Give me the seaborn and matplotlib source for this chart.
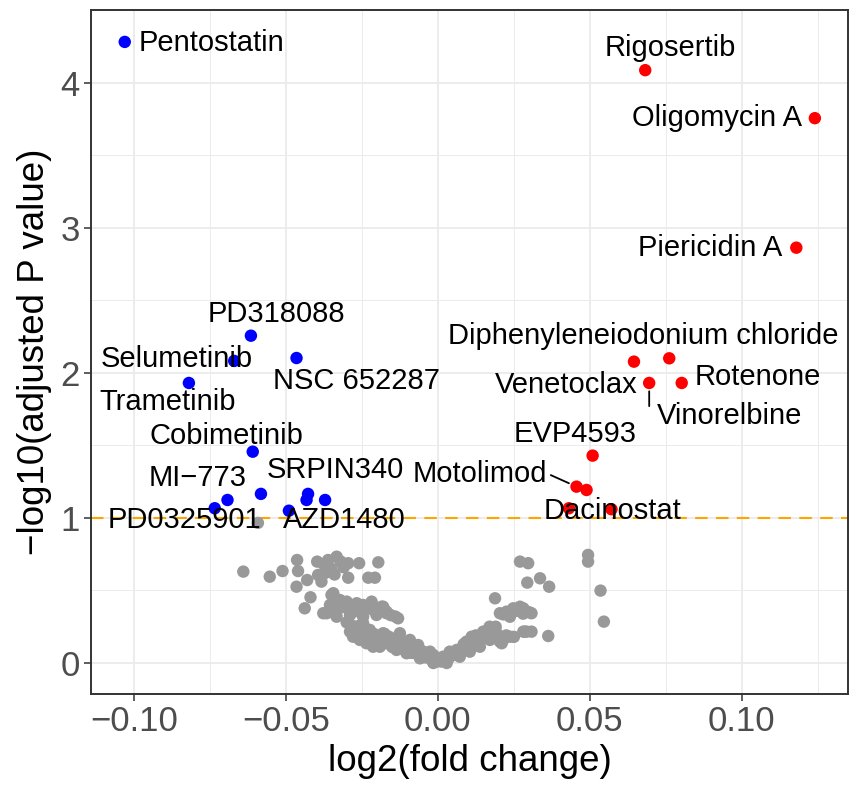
import numpy as np
import pandas as pd
import matplotlib
matplotlib.use("Agg")
import matplotlib.pyplot as plt
import seaborn as sns

# ---------------- data ----------------
down_names = ["Pentostatin", "PD318088", "Selumetinib", "NSC 652287", "Trametinib",
              "Cobimetinib", "MI−773", "PD0325901", "SRPIN340", "AZD1480", "", "", ""]
down_fc = [-0.1030, -0.0615, -0.0670, -0.0465, -0.0819, -0.0609, -0.0692, -0.0734,
           -0.0427, -0.0371, -0.0582, -0.0490, -0.0432]
down_p = [4.283, 2.257, 2.083, 2.103, 1.931, 1.457, 1.124, 1.067, 1.166, 1.124,
          1.166, 1.050, 1.124]

up_names = ["Rigosertib", "Oligomycin A", "Piericidin A", "Diphenyleneiodonium chloride",
            "Venetoclax", "Vinorelbine", "Rotenone", "EVP4593", "Motolimod", "Dacinostat", "", ""]
up_fc = [0.0682, 0.1240, 0.1179, 0.0761, 0.0645, 0.0695, 0.0802, 0.0509, 0.0456, 0.0571,
         0.0489, 0.0431]
up_p = [4.088, 3.757, 2.864, 2.101, 2.078, 1.931, 1.931, 1.430, 1.216, 1.060, 1.193, 1.067]

ns_fc = [-0.0640, -0.0553, -0.0511, -0.0463, -0.0460, -0.0465, -0.0430, -0.0397, -0.0361,
         -0.0333, -0.0394, -0.0383, -0.0372, -0.0419, -0.0438, -0.0350, -0.0366, -0.0333,
         -0.0333, -0.0295, -0.0259, -0.0196, -0.0295, -0.0229, -0.0207, -0.0344, -0.0322,
         -0.0300, -0.0267, -0.0246, -0.0218, -0.0185, -0.0169, -0.0131, -0.0333, -0.0289,
         -0.0246, -0.0202, -0.0246, -0.0377, -0.0344, -0.0312, -0.0279, -0.0246, -0.0213,
         -0.0180, -0.0169, -0.0289, -0.0267, -0.0246, -0.0224, -0.0202, -0.0180, -0.0169,
         -0.0147, -0.0125, -0.0114, -0.0092, -0.0081, -0.0065, -0.0048, -0.0026, -0.0004,
         -0.0257, -0.0235, -0.0213, -0.0191, -0.0136, -0.0103, -0.0059, -0.0015, -0.0279,
         -0.0015, 0.0007, 0.0017, 0.0039, 0.0062, 0.0083, 0.0094, 0.0111, 0.0127, 0.0149,
         0.0165, 0.0188, 0.0171, 0.0204, 0.0237, 0.0072, 0.0105, 0.0138, 0.0029, 0.0188,
         0.0204, 0.0226, 0.0248, 0.0270, 0.0292, 0.0308, 0.0237, 0.0292, 0.0281, 0.0270,
         0.0297, 0.0494, 0.0494, 0.0294, 0.0336, 0.0366, 0.0535, 0.0546, 0.0281, 0.0286,
         0.0308, 0.0363, 0.0210, -0.0592,
         -0.0270, -0.0255, -0.0230, -0.0215, -0.0200, -0.0190, -0.0160, -0.0150, -0.0140,
         -0.0110, -0.0100, -0.0085, -0.0070, -0.0055, -0.0040, -0.0030, -0.0020, -0.0010,
         0.0010, 0.0020, 0.0035, 0.0050, 0.0060, 0.0075, 0.0090, 0.0100, 0.0120, 0.0135,
         0.0155, 0.0175, 0.0195,
         -0.0300, -0.0285, -0.0275, -0.0265, -0.0255, -0.0240, -0.0230, -0.0220, -0.0210,
         -0.0205, -0.0195, -0.0185, -0.0175, -0.0165, -0.0155, -0.0145, -0.0135, -0.0120,
         -0.0115, -0.0105, -0.0095, -0.0085, -0.0075, -0.0065, -0.0050, -0.0045, -0.0035,
         -0.0025, -0.0012, -0.0005,
         -0.0355, -0.0320, -0.0300, -0.0290, -0.0270, -0.0255, -0.0235, -0.0225, -0.0195,
         -0.0175, -0.0155, -0.0140,
         0.0015, 0.0025, 0.0045, 0.0055, 0.0065, 0.0080, 0.0085, 0.0095, 0.0110, 0.0115,
         0.0125, 0.0130, 0.0145, 0.0160, 0.0170, 0.0180, 0.0190, 0.0200, 0.0215, 0.0225,
         0.0250,
         0.0215, 0.0260, 0.0280, 0.0300,
         -0.0350, -0.0340, -0.0320, -0.0310, -0.0375]
ns_p = [0.630, 0.595, 0.634, 0.710, 0.634, 0.526, 0.572, 0.699, 0.710, 0.733, 0.607, 0.561,
        0.619, 0.453, 0.377, 0.469, 0.343, 0.377, 0.319, 0.688, 0.688, 0.694, 0.588, 0.588,
        0.588, 0.481, 0.434, 0.423, 0.412, 0.400, 0.423, 0.388, 0.354, 0.308, 0.354, 0.331,
        0.319, 0.331, 0.274, 0.343, 0.366, 0.388, 0.354, 0.388, 0.366, 0.388, 0.343, 0.216,
        0.250, 0.205, 0.228, 0.181, 0.205, 0.136, 0.159, 0.205, 0.112, 0.159, 0.090, 0.124,
        0.067, 0.078, 0.032, 0.159, 0.136, 0.112, 0.112, 0.090, 0.067, 0.032, 0.000, 0.181,
        0.055, 0.021, 0.043, 0.078, 0.090, 0.112, 0.147, 0.181, 0.159, 0.216, 0.228, 0.232,
        0.159, 0.147, 0.181, 0.043, 0.078, 0.112, 0.000, 0.446, 0.343, 0.354, 0.377, 0.388,
        0.354, 0.343, 0.319, 0.216, 0.216, 0.699, 0.688, 0.745, 0.699, 0.554, 0.584, 0.526,
        0.499, 0.285, 0.377, 0.216, 0.216, 0.186, 0.136, 0.966,
        0.230, 0.180, 0.190, 0.150, 0.160, 0.140, 0.180, 0.110, 0.120, 0.130, 0.100, 0.070,
        0.080, 0.060, 0.040, 0.050, 0.020, 0.010, 0.010, 0.030, 0.030, 0.060, 0.060, 0.080,
        0.100, 0.120, 0.130, 0.150, 0.190, 0.200, 0.200,
        0.280, 0.260, 0.230, 0.200, 0.260, 0.240, 0.190, 0.210, 0.200, 0.150, 0.170, 0.140,
        0.200, 0.170, 0.130, 0.120, 0.140, 0.100, 0.150, 0.090, 0.120, 0.070, 0.100, 0.060,
        0.080, 0.040, 0.060, 0.030, 0.020, 0.010,
        0.400, 0.395, 0.380, 0.400, 0.370, 0.350, 0.375, 0.395, 0.370, 0.360, 0.330, 0.320,
        0.020, 0.035, 0.050, 0.070, 0.075, 0.090, 0.130, 0.110, 0.140, 0.120, 0.190, 0.140,
        0.170, 0.200, 0.250, 0.200, 0.250, 0.180, 0.160, 0.190, 0.180,
        0.335, 0.360, 0.340, 0.350,
        0.650, 0.610, 0.700, 0.660, 0.680]

# label layout (pixel offsets from the point, alignment, leader segment)
down_layout = [(14, -1, "left", False), (26, 22, "center", False), (-57, 2, "center", False),
               (60, -23, "center", False), (-21, -19, "center", False), (-26, 16, "center", False),
               (-30, 22, "center", False), (-30, -12, "center", False), (27, 24, "center", False),
               (19, -20, "center", False), None, None, None]
up_layout = [(25, 22, "center", False), (-13, 0, "right", False), (-14, 0, "right", False),
             (-26, 22, "center", False), (-68, -23, "center", False), (80, -33, "center", True),
             (13, 6, "left", False), (-18, 22, "center", False), (-29, 13, "right", True),
             (1, -2, "center", False), None, None]

df = pd.concat([
    pd.DataFrame({"fc": ns_fc, "p": ns_p, "name": "", "group": "ns"}),
    pd.DataFrame({"fc": down_fc, "p": down_p, "name": down_names, "group": "down"}),
    pd.DataFrame({"fc": up_fc, "p": up_p, "name": up_names, "group": "up"}),
], ignore_index=True)

# ---------------- style ----------------
sns.set_style("white")
plt.rcParams["font.family"] = ["Liberation Sans", "DejaVu Sans"]

fig = plt.figure(figsize=(8.51, 7.86), dpi=100)
ax = fig.add_axes([91 / 851, 1 - 694 / 786, (848 - 91) / 851, (694 - 10) / 786])

palette = {"ns": "#999999", "down": "#0000FF", "up": "#FF0000"}
sns.scatterplot(data=df, x="fc", y="p", hue="group", palette=palette, s=80,
                linewidth=0, legend=False, ax=ax, zorder=3)

ax.axhline(1.0, color="#FFA500", linestyle=(0, (6, 4)), linewidth=1.5, zorder=2)

ax.set_xlim(-0.1141, 0.1349)
ax.set_ylim(-0.214, 4.503)
ax.set_xticks([-0.10, -0.05, 0.00, 0.05, 0.10])
ax.set_xticklabels(["−0.10", "−0.05", "0.00", "0.05", "0.10"])
ax.set_yticks([0, 1, 2, 3, 4])
ax.set_xticks([-0.075, -0.025, 0.025, 0.075, 0.125], minor=True)
ax.set_yticks([0.5, 1.5, 2.5, 3.5], minor=True)
ax.grid(True, which="major", color="#EBEBEB", linewidth=1.3, zorder=0)
ax.grid(True, which="minor", color="#EBEBEB", linewidth=0.7, zorder=0)
ax.set_axisbelow(True)

ax.tick_params(axis="both", which="major", labelsize=25, labelcolor="#4D4D4D",
               color="#333333", length=5, width=1.1, direction="out",
               bottom=True, left=True, pad=3)
ax.tick_params(axis="both", which="minor", length=0)
for sp in ax.spines.values():
    sp.set_color("#333333")
    sp.set_linewidth(1.4)

ax.set_xlabel("log2(fold change)", fontsize=26.5, color="black", labelpad=4)
ax.set_ylabel("−log10(adjusted P value)", fontsize=26.5, color="black", labelpad=6)

# ---------------- labels ----------------
def add_labels(names, xs, ys, layout):
    for nm, x, y, lay in zip(names, xs, ys, layout):
        if not nm or lay is None:
            continue
        dx, dy, ha, seg = lay
        kw = {}
        if seg:
            rel = (1, 0.5) if ha == "right" else (-0.05, 0.85)
            kw["arrowprops"] = dict(arrowstyle="-", color="black", lw=1.3,
                                    shrinkA=0, shrinkB=6, relpos=rel)
        ax.annotate(nm, xy=(x, y), xytext=(dx, dy), textcoords="offset pixels",
                    ha=ha, va="center", fontsize=21, color="black", zorder=4, **kw)

add_labels(down_names, down_fc, down_p, down_layout)
add_labels(up_names, up_fc, up_p, up_layout)

fig.savefig("out.png", dpi=100)
